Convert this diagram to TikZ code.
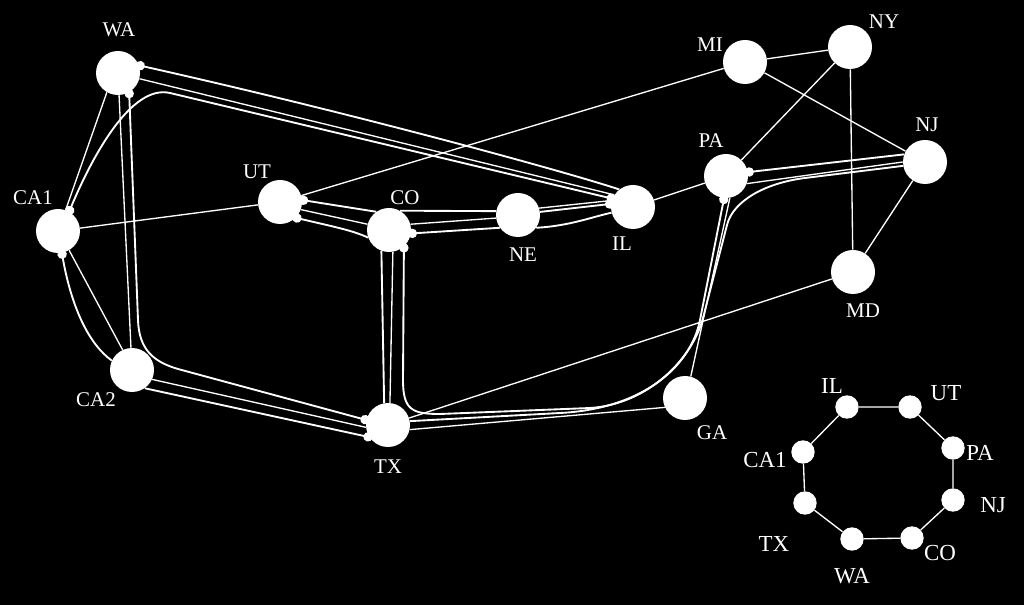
\documentclass[tikz,border=0pt]{standalone}
\usepackage{fontspec}
\setmainfont{Liberation Serif}
\usetikzlibrary{arrows.meta}

\tikzset{
  st/.style={circle, fill=white, minimum size=33pt, inner sep=0pt},
  rst/.style={circle, fill=white, minimum size=17.5pt, inner sep=0pt},
  lbl/.style={text=white, inner sep=0pt, font=\fontsize{15.7}{18}\selectfont},
  rlbl/.style={text=white, inner sep=0pt, font=\fontsize{17.2}{20}\selectfont},
  lk/.style={white, line width=1pt},
  lp/.style={white, line width=1.4pt},
  src/.style={arrows={Circle[length=7pt]-}, shorten <=-2.5pt},
  dst/.style={arrows={-Circle[length=7pt]}, shorten >=-2.5pt},
  duo/.style={arrows={Circle[length=7pt]-Circle[length=7pt]}, shorten <=-2.5pt, shorten >=-2.5pt},
}

\begin{document}
\begin{tikzpicture}[x=0.75pt,y=0.75pt,yscale=-1,xscale=1]
%background, sets the diagram size
\fill[black] (0,0) rectangle (1024,605);

%Shape: Circle, physical nodes
\node[st] (WA)  at (118,73)  {};
\node[st] (CA1) at (58,231)  {};
\node[st] (CA2) at (132,370) {};
\node[st] (UT)  at (280,202) {};
\node[st] (CO)  at (389,230) {};
\node[st] (NE)  at (518,215) {};
\node[st] (IL)  at (633,207) {};
\node[st] (TX)  at (388,425) {};
\node[st] (GA)  at (685,398) {};
\node[st] (PA)  at (726,176) {};
\node[st] (MI)  at (745,62)  {};
\node[st] (NY)  at (850,47)  {};
\node[st] (NJ)  at (925,162) {};
\node[st] (MD)  at (853,272) {};

%Shape: Circle, ring nodes
\node[rst] (rIL)  at (847,407) {};
\node[rst] (rUT)  at (910,407) {};
\node[rst] (rPA)  at (953,448) {};
\node[rst] (rNJ)  at (953,500) {};
\node[rst] (rCO)  at (912,538) {};
\node[rst] (rWA)  at (852,539) {};
\node[rst] (rTX)  at (805,503) {};
\node[rst] (rCA1) at (803,452) {};

%Straight Lines, physical links
\draw[lk] (CA1) -- (UT);
\draw[lk] (UT) -- (MI);
\draw[lk] (MI) -- (NY);
\draw[lk] (MI) -- (NJ);
\draw[lk] (NY) -- (PA);
\draw[lk] (NY) -- (MD);
\draw[lk] (NJ) -- (MD);
\draw[lk] (IL) -- (PA);
\draw[lk] (TX) -- (MD);
\draw[lk] (TX.-12) -- (GA.205);
\draw[lk] (GA.75) -- (PA.-80);
\draw[lk] (WA.-120) -- (CA1.70);
\draw[lk] (WA) -- (CA2);
\draw[lk] (WA.-15) -- (IL.147);
\draw[lk] (CA1.-60) -- (CA2.115);
\draw[lk] (CA2.-25) -- (TX.186);
\draw[lk] (UT.-20) -- (CO.165);
\draw[lk] (CO.15) -- (NE.188);
\draw[lk] (NE.18) -- (IL.163);
\draw[lk] (CO.-80) -- (TX.85);
\draw[lk] (PA.-20) -- (NJ.180);

%Curves, lightpaths
% CA1 - IL
\draw[lp, duo] (CA1.60) .. controls (92,157) and (131,84) .. (170,93) -- (IL.158);
% WA - TX
\draw[lp, duo] (WA.-60) -- (138,320) .. controls (139,350) and (154,362) .. (178,369) -- (TX.167);
% TX - CA1
\draw[lp, src] (CA1.-80) .. controls (72,310) and (90,345) .. (CA2.155);
\draw[lp, dst] (CA2.-55) -- (TX.213);
% CO - WA
\draw[lp, src] (CO.-9) -- (NE.215);
\draw[lp] (NE.-35) .. controls (570,226) and (595,216) .. (IL.195);
\draw[lp, dst] (IL.128) .. controls (557,169) and (339,110) .. (WA.20);
% IL - UT
\draw[lp, src] (UT.5) -- (CO.125);
\draw[lp] (CO.60) -- (NE.170);
\draw[lp, dst] (NE.8) -- (IL.172);
% UT - PA
\draw[lp, src] (UT.-45) .. controls (330,226) and (352,230) .. (CO.200);
\draw[lp] (CO.-110) -- (TX.100);
\draw[lp, dst] (TX.10) -- (560,413) .. controls (640,409) and (690,369) .. (700,320) -- (PA.-95);
% NJ - CO
\draw[lp, src] (CO.-48) -- (403,380) .. controls (403,410) and (412,414) .. (440,414) -- (590,408)
  .. controls (650,404) and (693,357) .. (703,318) -- (727,225)
  .. controls (733,201) and (765,183) .. (805,178) -- (NJ.190);
% PA - NJ
\draw[lp, src] (PA.10) -- (NJ.160);

%Straight Lines, ring
\draw[lk] (rIL) -- (rUT) -- (rPA) -- (rNJ) -- (rCO) -- (rWA) -- (rTX) -- (rCA1) -- (rIL);

% Text Node
\node[lbl] (tWA)  at (119,30)  {WA};
\node[lbl] (tCA1) at (33,198)  {CA1};
\node[lbl] (tCA2) at (96,400)  {CA2};
\node[lbl] (tUT)  at (257,172) {UT};
\node[lbl] (tCO)  at (405,198) {CO};
\node[lbl] (tNE)  at (523,255) {NE};
\node[lbl] (tIL)  at (622,244) {IL};
\node[lbl] (tTX)  at (388,467) {TX};
\node[lbl] (tGA)  at (712,433) {GA};
\node[lbl] (tPA)  at (711,141) {PA};
\node[lbl] (tMI)  at (710,45)  {MI};
\node[lbl] (tNY)  at (884,22)  {NY};
\node[lbl] (tNJ)  at (927,125) {NJ};
\node[lbl] (tMD)  at (863,311) {MD};
% Text Node, ring
\node[rlbl] (trIL)  at (832,386) {IL};
\node[rlbl] (trUT)  at (946,393) {UT};
\node[rlbl] (trPA)  at (980,453) {PA};
\node[rlbl] (trNJ)  at (993,505) {NJ};
\node[rlbl] (trCO)  at (940,553) {CO};
\node[rlbl] (trWA)  at (852,576) {WA};
\node[rlbl] (trTX)  at (774,544) {TX};
\node[rlbl] (trCA1) at (765,460) {CA1};

\end{tikzpicture}
\end{document}
